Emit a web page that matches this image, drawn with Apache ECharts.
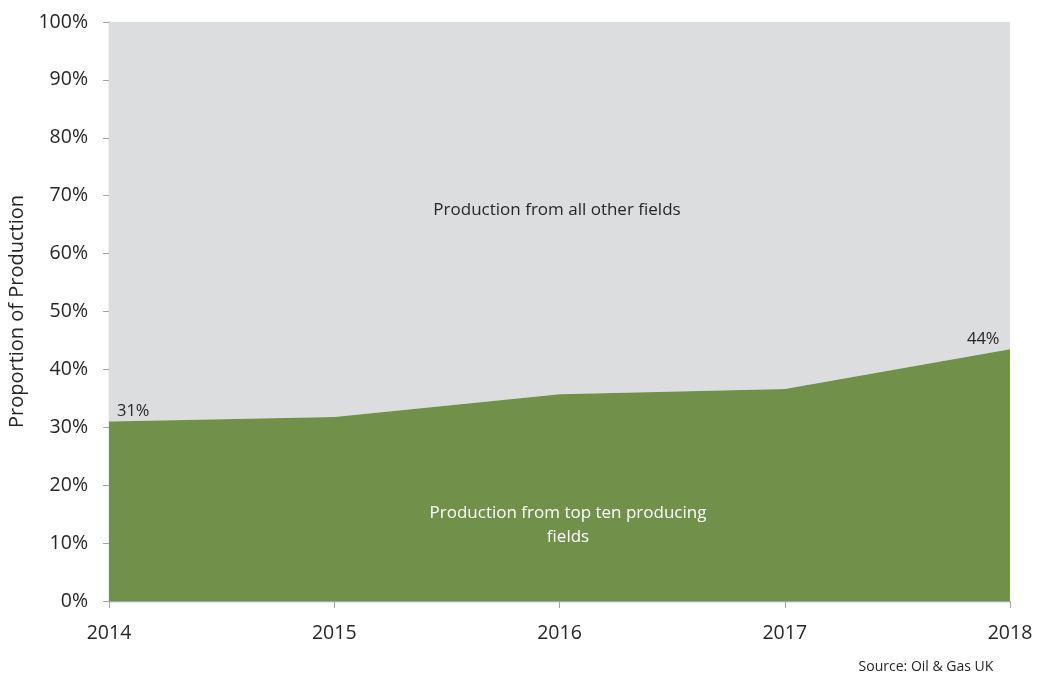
<!DOCTYPE html>
<html>
<head>
<meta charset="utf-8">
<script src="https://cdn.jsdelivr.net/npm/echarts@6/dist/echarts.min.js"></script>
<style>
  html, body { margin: 0; padding: 0; background: #ffffff; }
  #chart { width: 1037px; height: 675px; }
</style>
</head>
<body>
<div id="chart"></div>
<script>
// Years on the horizontal axis
const years = ['2014', '2015', '2016', '2017', '2018'];
// Share of production from the top ten producing fields (%)
const topTenShare = [31.0, 31.8, 35.7, 36.6, 43.5];
// Labelled values shown at the ends of the series
const endLabels = ['31%', '', '', '', '44%'];
// Remaining share from all other fields (%)
const otherShare = topTenShare.map(v => 100 - v);

const FONT = '"Open Sans", "DejaVu Sans", sans-serif';
const AXIS_GREY = '#A6A6A6';
const TEXT = '#262626';

const chart = echarts.init(document.getElementById('chart'));
chart.setOption({
  animation: false,
  grid: { left: 109, right: 27, top: 22, bottom: 74, containLabel: false, outerBoundsMode: 'none' },
  xAxis: {
    type: 'category',
    data: years,
    boundaryGap: false,
    axisLine: { lineStyle: { color: AXIS_GREY, width: 1.3 } },
    axisTick: { show: true, length: 7, alignWithLabel: true, lineStyle: { color: AXIS_GREY } },
    axisLabel: { color: TEXT, fontSize: 19.5, fontFamily: FONT, margin: 22 },
    splitLine: { show: false }
  },
  yAxis: {
    type: 'value',
    min: 0, max: 100, interval: 10,
    name: 'Proportion of Production',
    nameLocation: 'middle',
    nameGap: 81,
    nameRotate: 90,
    nameTextStyle: { color: TEXT, fontSize: 20, fontFamily: FONT },
    axisLine: { show: true, lineStyle: { color: AXIS_GREY, width: 1.3 } },
    axisTick: { show: true, length: 6, lineStyle: { color: AXIS_GREY } },
    axisLabel: { color: TEXT, fontSize: 19.5, fontFamily: FONT, margin: 21, formatter: '{value}%' },
    splitLine: { show: false }
  },
  series: [
    {
      name: 'Production from top ten producing fields',
      type: 'line',
      stack: 'total',
      data: topTenShare.map((v, i) => ({
        value: v,
        label: {
          show: endLabels[i] !== '',
          formatter: endLabels[i],
          position: i === 0 ? [8, -19] : [-43, -18],
          color: TEXT, fontSize: 16.5, fontFamily: FONT
        }
      })),
      symbol: 'circle',
      symbolSize: 0,
      showSymbol: true,
      lineStyle: { width: 0 },
      areaStyle: { color: '#71914A', opacity: 1 },
      z: 3
    },
    {
      name: 'Production from all other fields',
      type: 'line',
      stack: 'total',
      data: otherShare,
      symbol: 'none',
      lineStyle: { width: 0 },
      areaStyle: { color: '#DCDDDF', opacity: 1 },
      z: 2
    }
  ],
  graphic: [
    {
      type: 'text', x: 557, y: 202, z: 100,
      style: { text: 'Production from all other fields', fill: TEXT, font: '17px ' + FONT, align: 'center' }
    },
    {
      type: 'text', x: 568, y: 501, z: 100,
      style: {
        text: 'Production from top ten producing\nfields',
        fill: '#ffffff', font: '17px ' + FONT, align: 'center', lineHeight: 24
      }
    },
    {
      type: 'text', x: 926, y: 660, z: 100,
      style: { text: 'Source: Oil & Gas UK', fill: TEXT, font: '14px ' + FONT, align: 'center' }
    }
  ]
});
</script>
</body>
</html>
